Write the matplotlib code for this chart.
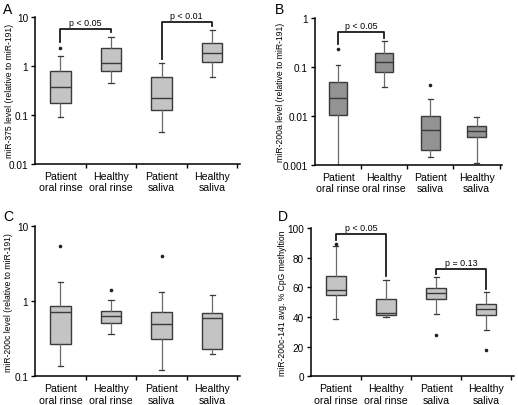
import numpy as np
import matplotlib.pyplot as plt
from matplotlib.ticker import FixedLocator, NullLocator

plt.rcParams['font.family'] = ['Liberation Sans', 'DejaVu Sans']

groups = ['Patient\noral rinse', 'Healthy\noral rinse', 'Patient\nsaliva', 'Healthy\nsaliva']

# panel A: miR-375
a_med = [0.37, 1.15, 0.224, 1.8]
a_q1 = [0.174, 0.80, 0.127, 1.19]
a_q3 = [0.77, 2.3, 0.59, 2.95]
a_lo = [0.089, 0.45, 0.044, 0.6]
a_hi = [1.62, 3.9, 1.15, 5.5]
a_out = [[2.3], [], [], []]

# panel B: miR-200a
b_med = [0.023, 0.126, 0.0051, 0.0049]
b_q1 = [0.0105, 0.081, 0.0020, 0.0037]
b_q3 = [0.050, 0.20, 0.0098, 0.0062]
b_lo = [0.0008, 0.039, 0.00145, 0.0011]
b_hi = [0.111, 0.34, 0.022, 0.0095]
b_out = [[0.237], [], [0.044], []]

# panel C: miR-200c
c_med = [0.71, 0.64, 0.49, 0.59]
c_q1 = [0.27, 0.51, 0.31, 0.228]
c_q3 = [0.87, 0.74, 0.71, 0.69]
c_lo = [0.138, 0.37, 0.12, 0.196]
c_hi = [1.79, 1.05, 1.31, 1.23]
c_out = [[5.4], [1.43], [4.0], []]

# panel D: CpG methylation (%)
d_med = [58.1, 42.3, 55.8, 45.0]
d_q1 = [54.5, 41.6, 52.2, 41.4]
d_q3 = [67.6, 51.8, 59.7, 48.6]
d_lo = [38.7, 39.6, 42.1, 31.1]
d_hi = [87.8, 65.0, 66.6, 56.7]
d_out = [[88.9], [], [27.9], [17.8]]

# significance brackets: (left box, right box, top, left leg end, right leg end, text)
a_sig = [(1, 2, 5.7, 3.1, 5.0, 'p < 0.05'), (3, 4, 8.0, 1.4, 6.5, 'p < 0.01')]
b_sig = [(1, 2, 0.54, 0.3, 0.4, 'p < 0.05')]
d_sig = [(1, 2, 95.7, 92, 67.6, 'p < 0.05'), (3, 4, 72.5, 69, 59, 'p = 0.13')]


def panel(ax, med, q1, q3, lo, hi, out, face, ylim, yticks, yticklabels,
          ylabel, label_x, sig, log=True):
    stats = []
    for i in range(4):
        stats.append(dict(med=med[i], q1=q1[i], q3=q3[i], whislo=lo[i],
                          whishi=hi[i], fliers=out[i]))
    if log:
        ax.set_yscale('log')
    ax.bxp(stats, positions=[1, 2, 3, 4], widths=0.4, capwidths=0.1,
           patch_artist=True, showfliers=True,
           boxprops=dict(facecolor=face, edgecolor='#3a3a3a', linewidth=1.0),
           medianprops=dict(color='#3a3a3a', linewidth=1.0),
           whiskerprops=dict(color='#6a6a6a', linewidth=0.9),
           capprops=dict(color='#3a3a3a', linewidth=0.9),
           flierprops=dict(marker='o', markersize=1.6, markerfacecolor='#222222',
                           markeredgecolor='#222222'))
    ax.set_xlim(0.5, 4.55)
    ax.set_ylim(*ylim)
    ax.xaxis.set_major_locator(FixedLocator([1.5, 2.5, 3.5, 4.5]))
    ax.xaxis.set_major_formatter(plt.NullFormatter())
    ax.set_xticks([1, 2, 3, 4], groups, minor=True)
    ax.tick_params(axis='x', which='minor', length=0, labelsize=7.6, pad=5)
    ax.tick_params(axis='x', which='major', length=3, width=1)
    ax.yaxis.set_major_locator(FixedLocator(yticks))
    ax.yaxis.set_minor_locator(NullLocator())
    ax.set_yticklabels(yticklabels)
    ax.tick_params(axis='y', length=3, width=1, labelsize=7.2, pad=2)
    for s in ['top', 'right']:
        ax.spines[s].set_visible(False)
    for s in ['left', 'bottom']:
        ax.spines[s].set_linewidth(1.1)
    ax.set_ylabel(ylabel, fontsize=6.2)
    # place y label (right edge of the rotated text) at a fixed pixel column
    x_ax = ax.transAxes.inverted().transform(
        fig.transFigure.transform((label_x / 518, 0)))[0]
    ax.yaxis.set_label_coords(x_ax, 0.5)
    for x1, x2, top, e1, e2, txt in sig:
        ax.plot([x1, x1, x2, x2], [e1, top, top, e2], color='#1a1a1a',
                linewidth=1.3, clip_on=False)
        if log:
            ty = top * 1.1
        else:
            ty = top + 1.5
        ax.text((x1 + x2) / 2, ty, txt, ha='center', va='bottom', fontsize=6.4,
                clip_on=False)


fig = plt.figure(figsize=(5.18, 4.06), dpi=100)
axA = fig.add_axes([0.068, 0.594, 0.395, 0.362])
axB = fig.add_axes([0.608, 0.592, 0.361, 0.360])
axC = fig.add_axes([0.068, 0.071, 0.395, 0.369])
axD = fig.add_axes([0.600, 0.071, 0.392, 0.365])

light = '#c4c4c4'
dark = '#939393'

panel(axA, a_med, a_q1, a_q3, a_lo, a_hi, a_out, light, (0.01, 10),
      [0.01, 0.1, 1, 10], ['0.01', '0.1', '1', '10'],
      'miR-375 level (relative to miR-191)', 14, a_sig)
panel(axB, b_med, b_q1, b_q3, b_lo, b_hi, b_out, dark, (0.001, 1),
      [0.001, 0.01, 0.1, 1], ['0.001', '0.01', '0.1', '1'],
      'miR-200a level (relative to miR-191)', 285, b_sig)
panel(axC, c_med, c_q1, c_q3, c_lo, c_hi, c_out, light, (0.1, 10),
      [0.1, 1, 10], ['0.1', '1', '10'],
      'miR-200c level (relative to miR-191)', 13, [])
panel(axD, d_med, d_q1, d_q3, d_lo, d_hi, d_out, light, (0, 100),
      [0, 20, 40, 60, 80, 100], ['0', '20', '40', '60', '80', '100'],
      'miR-200c-141 avg. % CpG methyltion', 287, d_sig, log=False)

# panel letters
for letter, px, py in [('A', 3, 3), ('B', 275, 3), ('C', 3, 210), ('D', 278, 210)]:
    fig.text(px / 518, 1 - py / 406, letter, fontsize=10, ha='left', va='top')

fig.savefig('out.png', dpi=100)
